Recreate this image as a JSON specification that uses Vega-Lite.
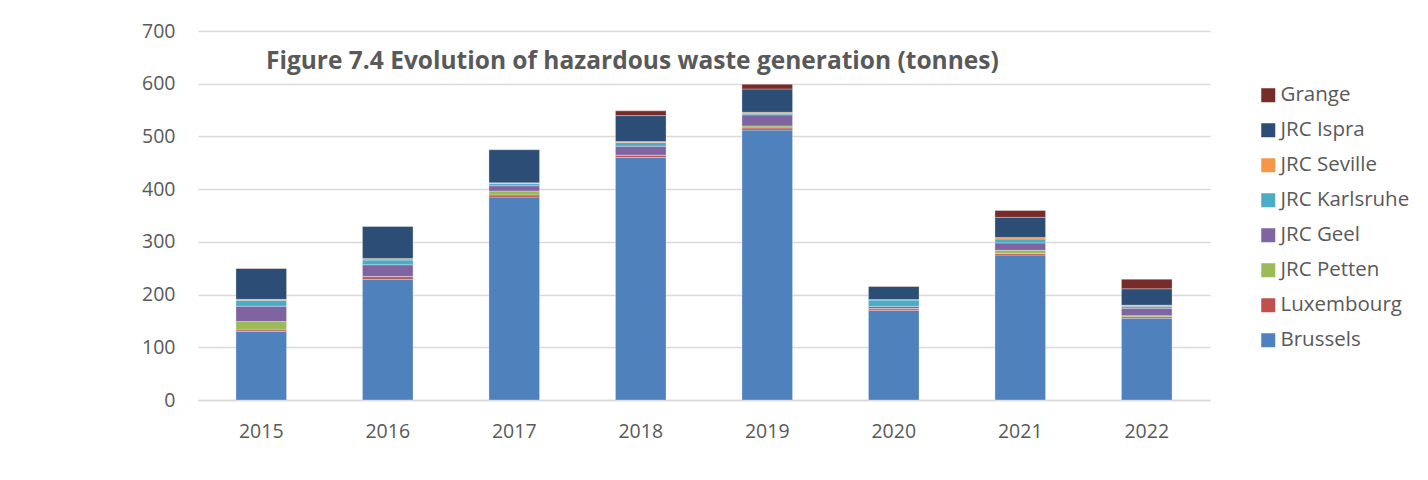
{
  "$schema": "https://vega.github.io/schema/vega-lite/v6.json",
  "autosize": {"type": "none"},
  "width": 1012,
  "height": 369,
  "padding": {"left": 198, "top": 31, "right": 218, "bottom": 80},
  "background": "#ffffff",
  "config": {
    "font": "Open Sans",
    "view": {"stroke": null},
    "axis": {"labelFont": "Open Sans", "labelColor": "#595959", "labelFontSize": 19.5, "titleFont": "Open Sans"},
    "legend": {"labelFont": "Open Sans"}
  },
  "title": {
    "text": "Figure 7.4 Evolution of hazardous waste generation (tonnes)",
    "font": "Open Sans",
    "fontSize": 24.5,
    "fontWeight": "bold",
    "color": "#595959",
    "anchor": "start",
    "frame": "group",
    "baseline": "alphabetic",
    "offset": 0,
    "dx": 68,
    "dy": 72
  },
  "data": {
    "values": [
      {"year": "2015", "site": "Brussels", "tonnes": 130},
      {"year": "2015", "site": "Luxembourg", "tonnes": 3},
      {"year": "2015", "site": "JRC Petten", "tonnes": 16},
      {"year": "2015", "site": "JRC Geel", "tonnes": 29},
      {"year": "2015", "site": "JRC Karlsruhe", "tonnes": 11},
      {"year": "2015", "site": "JRC Seville", "tonnes": 2},
      {"year": "2015", "site": "JRC Ispra", "tonnes": 58.5},
      {"year": "2015", "site": "Grange", "tonnes": 0.5},
      {"year": "2016", "site": "Brussels", "tonnes": 229},
      {"year": "2016", "site": "Luxembourg", "tonnes": 5},
      {"year": "2016", "site": "JRC Petten", "tonnes": 0.5},
      {"year": "2016", "site": "JRC Geel", "tonnes": 22},
      {"year": "2016", "site": "JRC Karlsruhe", "tonnes": 9},
      {"year": "2016", "site": "JRC Seville", "tonnes": 3},
      {"year": "2016", "site": "JRC Ispra", "tonnes": 61},
      {"year": "2016", "site": "Grange", "tonnes": 0},
      {"year": "2017", "site": "Brussels", "tonnes": 385},
      {"year": "2017", "site": "Luxembourg", "tonnes": 4},
      {"year": "2017", "site": "JRC Petten", "tonnes": 7.5},
      {"year": "2017", "site": "JRC Geel", "tonnes": 10},
      {"year": "2017", "site": "JRC Karlsruhe", "tonnes": 4},
      {"year": "2017", "site": "JRC Seville", "tonnes": 1.5},
      {"year": "2017", "site": "JRC Ispra", "tonnes": 63},
      {"year": "2017", "site": "Grange", "tonnes": 0},
      {"year": "2018", "site": "Brussels", "tonnes": 460},
      {"year": "2018", "site": "Luxembourg", "tonnes": 4.5},
      {"year": "2018", "site": "JRC Petten", "tonnes": 0},
      {"year": "2018", "site": "JRC Geel", "tonnes": 17},
      {"year": "2018", "site": "JRC Karlsruhe", "tonnes": 7},
      {"year": "2018", "site": "JRC Seville", "tonnes": 2},
      {"year": "2018", "site": "JRC Ispra", "tonnes": 49},
      {"year": "2018", "site": "Grange", "tonnes": 9},
      {"year": "2019", "site": "Brussels", "tonnes": 512},
      {"year": "2019", "site": "Luxembourg", "tonnes": 4},
      {"year": "2019", "site": "JRC Petten", "tonnes": 4},
      {"year": "2019", "site": "JRC Geel", "tonnes": 21},
      {"year": "2019", "site": "JRC Karlsruhe", "tonnes": 3},
      {"year": "2019", "site": "JRC Seville", "tonnes": 2},
      {"year": "2019", "site": "JRC Ispra", "tonnes": 44},
      {"year": "2019", "site": "Grange", "tonnes": 9},
      {"year": "2020", "site": "Brussels", "tonnes": 170},
      {"year": "2020", "site": "Luxembourg", "tonnes": 3},
      {"year": "2020", "site": "JRC Petten", "tonnes": 0.5},
      {"year": "2020", "site": "JRC Geel", "tonnes": 4},
      {"year": "2020", "site": "JRC Karlsruhe", "tonnes": 12},
      {"year": "2020", "site": "JRC Seville", "tonnes": 1},
      {"year": "2020", "site": "JRC Ispra", "tonnes": 25},
      {"year": "2020", "site": "Grange", "tonnes": 0.5},
      {"year": "2021", "site": "Brussels", "tonnes": 275},
      {"year": "2021", "site": "Luxembourg", "tonnes": 3},
      {"year": "2021", "site": "JRC Petten", "tonnes": 6},
      {"year": "2021", "site": "JRC Geel", "tonnes": 14},
      {"year": "2021", "site": "JRC Karlsruhe", "tonnes": 7.5},
      {"year": "2021", "site": "JRC Seville", "tonnes": 3},
      {"year": "2021", "site": "JRC Ispra", "tonnes": 38},
      {"year": "2021", "site": "Grange", "tonnes": 13},
      {"year": "2022", "site": "Brussels", "tonnes": 155},
      {"year": "2022", "site": "Luxembourg", "tonnes": 3},
      {"year": "2022", "site": "JRC Petten", "tonnes": 2},
      {"year": "2022", "site": "JRC Geel", "tonnes": 14},
      {"year": "2022", "site": "JRC Karlsruhe", "tonnes": 4},
      {"year": "2022", "site": "JRC Seville", "tonnes": 2},
      {"year": "2022", "site": "JRC Ispra", "tonnes": 31},
      {"year": "2022", "site": "Grange", "tonnes": 18}
    ]
  },
  "transform": [
    {"calculate": "indexof(['Brussels','Luxembourg','JRC Petten','JRC Geel','JRC Karlsruhe','JRC Seville','JRC Ispra','Grange'], datum.site)", "as": "stackOrder"}
  ],
  "mark": {"type": "bar", "stroke": "#ffffff", "strokeOpacity": 0.5, "strokeWidth": 0.6},
  "encoding": {
    "x": {
      "field": "year",
      "type": "ordinal",
      "scale": {"paddingInner": 0.6, "paddingOuter": 0.3},
      "axis": {
        "title": null,
        "labelAngle": 0,
        "ticks": false,
        "domain": true,
        "domainColor": "#D9D9D9",
        "domainWidth": 1.5,
        "labelPadding": 22
      }
    },
    "y": {
      "field": "tonnes",
      "type": "quantitative",
      "stack": "zero",
      "scale": {"domain": [0, 700], "nice": false},
      "axis": {
        "title": null,
        "values": [0, 100, 200, 300, 400, 500, 600, 700],
        "ticks": false,
        "domain": false,
        "grid": true,
        "gridColor": "#D9D9D9",
        "gridWidth": 1.5,
        "labelPadding": 23
      }
    },
    "order": {"field": "stackOrder", "type": "quantitative", "sort": "ascending"},
    "color": {
      "field": "site",
      "type": "nominal",
      "scale": {
        "domain": ["Brussels", "Luxembourg", "JRC Petten", "JRC Geel", "JRC Karlsruhe", "JRC Seville", "JRC Ispra", "Grange"],
        "range": ["#4F81BD", "#C0504D", "#9BBB59", "#8064A2", "#4BACC6", "#F79646", "#2C4D75", "#772C2A"]
      },
      "legend": {
        "title": null,
        "orient": "none",
        "legendX": 1060,
        "legendY": 54,
        "values": ["Grange", "JRC Ispra", "JRC Seville", "JRC Karlsruhe", "JRC Geel", "JRC Petten", "Luxembourg", "Brussels"],
        "symbolType": "square",
        "symbolSize": 196,
        "symbolStrokeWidth": 0,
        "labelFontSize": 20.5,
        "labelColor": "#595959",
        "labelOffset": 2,
        "rowPadding": 14,
        "padding": 0
      }
    }
  }
}
